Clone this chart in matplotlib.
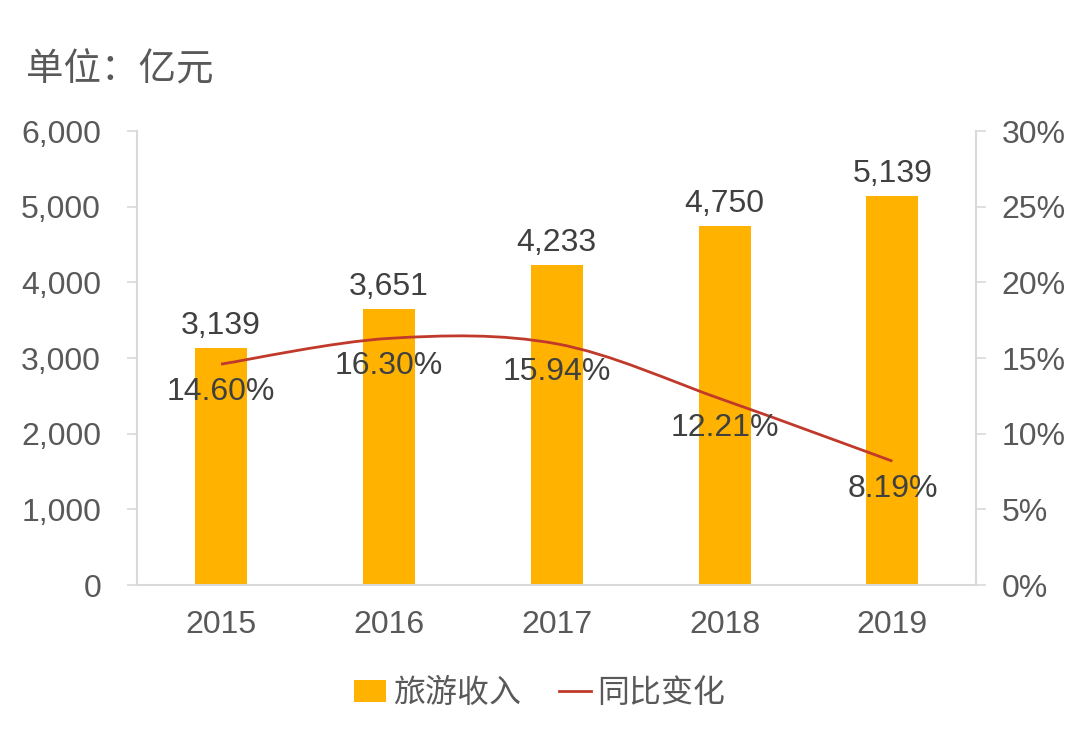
import matplotlib
matplotlib.use('Agg')
import matplotlib.pyplot as plt
from matplotlib.path import Path
from matplotlib.patches import PathPatch
from matplotlib.lines import Line2D
from matplotlib.patches import Patch
from matplotlib.ticker import FuncFormatter

# 글꼴: 숫자는 Arial 계열, 한자는 Noto CJK
plt.rcParams['font.family'] = ['Liberation Sans', 'Noto Sans CJK SC', 'DejaVu Sans']
plt.rcParams['axes.unicode_minus'] = False

years = ['2015', '2016', '2017', '2018', '2019']
income = [3139, 3651, 4233, 4750, 5139]
growth = [14.60, 16.30, 15.94, 12.21, 8.19]

BAR_COLOR = '#FFB300'
LINE_COLOR = '#C0392B'
TEXT_COLOR = '#595959'
AXIS_COLOR = '#D9D9D9'
FS = 23

fig = plt.figure(figsize=(10.8, 7.36), dpi=100)
ax = fig.add_axes([0.127, 0.205, 0.777, 0.617])
x = list(range(len(years)))

ax.bar(x, income, width=0.31, color=BAR_COLOR, zorder=2)
ax.set_xlim(-0.5, len(years) - 0.5)
ax.set_ylim(0, 6000)
ax.set_yticks(range(0, 6001, 1000))
ax.yaxis.set_major_formatter(FuncFormatter(lambda v, p: f'{int(v):,}'))
ax.set_xticks(x)
ax.set_xticklabels(years)

for xi, v in zip(x, income):
    ax.annotate(f'{v:,}', (xi, v), xytext=(0, 5), textcoords='offset points',
                ha='center', va='bottom', fontsize=FS, color='#404040')

ax2 = ax.twinx()
ax2.set_ylim(0, 30)
ax2.set_yticks(range(0, 31, 5))
ax2.yaxis.set_major_formatter(FuncFormatter(lambda v, p: f'{int(v)}%'))

# Excel 스타일 부드러운 곡선 (Catmull-Rom -> Bezier)
pts = list(zip(x, growth))
verts = [pts[0]]
codes = [Path.MOVETO]
for i in range(len(pts) - 1):
    p0 = pts[i - 1] if i > 0 else pts[i]
    p1 = pts[i]
    p2 = pts[i + 1]
    p3 = pts[i + 2] if i + 2 < len(pts) else pts[i + 1]
    c1 = (p1[0] + (p2[0] - p0[0]) / 6, p1[1] + (p2[1] - p0[1]) / 6)
    c2 = (p2[0] - (p3[0] - p1[0]) / 6, p2[1] - (p3[1] - p1[1]) / 6)
    verts += [c1, c2, p2]
    codes += [Path.CURVE4] * 3
ax2.add_patch(PathPatch(Path(verts, codes), facecolor='none',
                        edgecolor=LINE_COLOR, lw=2, zorder=3))

for xi, g in zip(x, growth):
    ax2.annotate(f'{g:.2f}%', (xi, g), xytext=(0, -20), textcoords='offset points',
                 ha='center', va='center', fontsize=FS, color='#404040')

for a in (ax, ax2):
    for s in a.spines.values():
        s.set_visible(False)
    a.tick_params(axis='y', colors=AXIS_COLOR, labelcolor=TEXT_COLOR,
                  labelsize=FS, length=7, width=1.2)
ax.tick_params(axis='y', pad=19)
ax2.tick_params(axis='y', pad=11)
ax.spines['left'].set_visible(True)
ax.spines['bottom'].set_visible(True)
ax2.spines['right'].set_visible(True)
ax.spines['left'].set_color(AXIS_COLOR)
ax.spines['bottom'].set_color(AXIS_COLOR)
ax2.spines['right'].set_color(AXIS_COLOR)
for s in (ax.spines['left'], ax.spines['bottom'], ax2.spines['right']):
    s.set_linewidth(1.5)
ax.tick_params(axis='x', length=0, labelsize=FS, labelcolor=TEXT_COLOR, pad=18)

fig.text(0.024, 0.905, '单位：亿元', fontsize=27, color=TEXT_COLOR,
         ha='left', va='center', family=['Noto Sans CJK SC'])

handles = [Patch(facecolor=BAR_COLOR, edgecolor='none'),
           Line2D([0], [0], color=LINE_COLOR, lw=2)]
fig.legend(handles, ['旅游收入', '同比变化'], loc='center', bbox_to_anchor=(0.5, 0.058),
           ncol=2, frameon=False, labelcolor=TEXT_COLOR,
           handlelength=1.0, handletextpad=0.2, columnspacing=1.2,
           prop={'family': ['Noto Sans CJK SC'], 'size': FS})

fig.savefig('out.png', dpi=100)
